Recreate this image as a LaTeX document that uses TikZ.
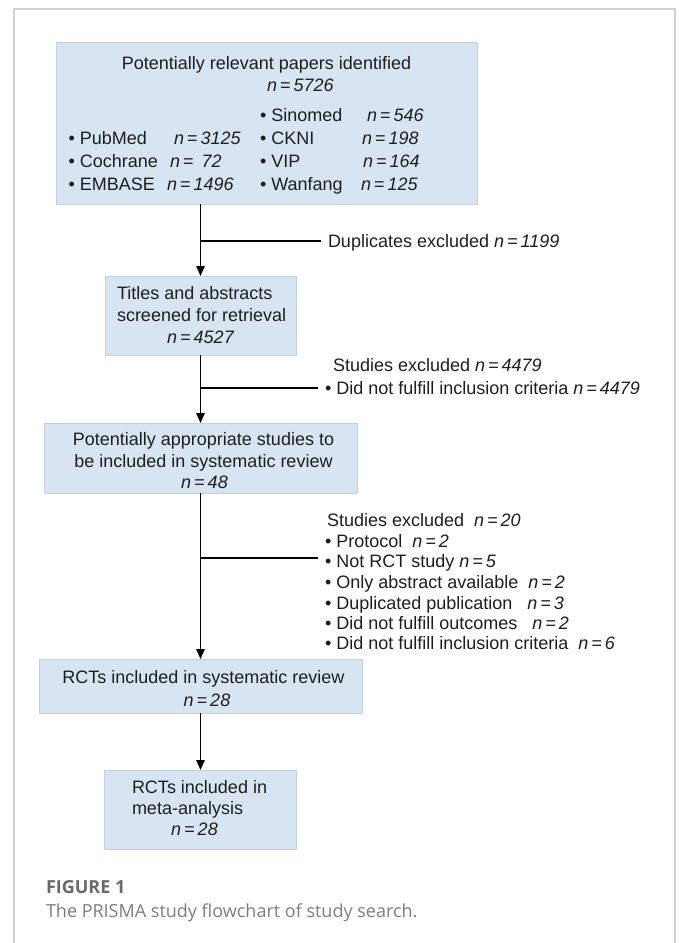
\documentclass[tikz,border=0pt]{standalone}
\usepackage{fontspec}
\setmainfont{Liberation Sans}
\newfontfamily\capfont{Open Sans}
\usetikzlibrary{arrows.meta,calc}
\definecolor{boxfill}{RGB}{215,229,243}
\definecolor{boxdraw}{RGB}{196,208,220}
\definecolor{framec}{RGB}{208,208,208}
\definecolor{txt}{RGB}{30,30,30}
\definecolor{capbold}{RGB}{105,105,105}
\definecolor{captext}{RGB}{125,125,125}
\newcommand\nval[1]{{\itshape n\,=\,#1}}
\begin{document}
\begin{tikzpicture}[x=1pt,y=-1pt,
  every node/.style={inner sep=0pt, outer sep=0pt, text=txt, font=\fontsize{18}{22}\selectfont},
  flowbox/.style={draw=boxdraw, fill=boxfill, line width=0.9pt, rectangle},
  tx/.style={anchor=base west},
  txc/.style={anchor=base},
  side/.style={anchor=base west, inner xsep=7pt},
  conn/.style={line width=1.4pt, draw=black},
  arr/.style={conn, -{Triangle[length=10pt,width=8.5pt]}},
]
\useasboundingbox (0,0) rectangle (678,943);
\clip (0,0) rectangle (678,943);
\draw[framec, line width=1.5pt] (14,960) -- (14,9) -- (675,9) -- (675,960);

% boxes
\node[flowbox, minimum width=421pt, minimum height=162pt] (b1) at (266.5,123) {};
\node[flowbox, minimum width=191pt, minimum height=79pt] (b2) at (200.5,315.5) {};
\node[flowbox, minimum width=313pt, minimum height=70pt] (b3) at (200.5,458) {};
\node[flowbox, minimum width=323pt, minimum height=54pt] (b4) at (200.5,686) {};
\node[flowbox, minimum width=192pt, minimum height=79pt] (b5) at (200.5,809.5) {};

% box 1 text
\node[txc] (h1) at (266.5,69) {Potentially relevant papers identified};
\node[tx] (h1n) at (267,91) {\nval{5726}};
\node[tx] (l1) at (68.5,144) {• PubMed};
\node[tx] (l1n) at (174,144) {\nval{3125}};
\node[tx] (l2) at (68.5,167) {• Cochrane};
\node[tx] (l2n) at (170,167) {{\itshape n\,=\ \,72}};
\node[tx] (l3) at (68.5,190) {• EMBASE};
\node[tx] (l3n) at (167,190) {\nval{1496}};
\node[tx] (r1) at (260,121) {• Sinomed};
\node[tx] (r1n) at (367,121) {\nval{546}};
\node[tx] (r2) at (260,144) {• CKNI};
\node[tx] (r2n) at (362,144) {\nval{198}};
\node[tx] (r3) at (260,167) {• VIP};
\node[tx] (r3n) at (363,167) {\nval{164}};
\node[tx] (r4) at (260,190) {• Wanfang};
\node[tx] (r4n) at (361,190) {\nval{125}};

% box 2 text
\node[tx] (t2a) at (117,299) {Titles and abstracts};
\node[tx] (t2b) at (117,321) {screened for retrieval};
\node[txc] (t2n) at (200.5,343) {\nval{4527}};

% box 3 text
\node[txc] (t3a) at (203.5,445) {Potentially appropriate studies to};
\node[txc] (t3b) at (203.5,467) {be included in systematic review};
\node[txc] (t3n) at (204.5,488) {\nval{48}};

% box 4 text
\node[txc] (t4a) at (203.5,683) {RCTs included in systematic review};
\node[txc] (t4n) at (207,706) {\nval{28}};

% box 5 text
\node[tx] (t5a) at (132,793) {RCTs included in};
\node[tx] (t5b) at (132,814) {meta-analysis};
\node[txc] (t5n) at (194.5,835) {\nval{28}};

% side texts
\node[side] (dup) at (321,247) {Duplicates excluded \nval{1199}};
\node[side] (s1a) at (326,371) {Studies excluded \nval{4479}};
\node[side] (s1b) at (318,394) {• Did not fulfill inclusion criteria \nval{4479}};
\node[side] (s2a) at (320,526) {Studies excluded\ \ \nval{20}};
\node[side] (s2b) at (318,547) {• Protocol\ \ \nval{2}};
\node[side] (s2c) at (318,567) {• Not RCT study \nval{5}};
\node[side] (s2d) at (318,588) {• Only abstract available\ \ \nval{2}};
\node[side] (s2e) at (318,609) {• Duplicated publication\ \ \ \nval{3}};
\node[side] (s2f) at (318,629) {• Did not fulfill outcomes\ \ \ \nval{2}};
\node[side] (s2g) at (318,649) {• Did not fulfill inclusion criteria\ \ \nval{6}};

% connectors
\coordinate (j1) at (200.5,241);
\coordinate (j2) at (200.5,388);
\coordinate (j3) at (200.5,558);
\draw[arr] (b1.south -| b2.north) -- (b2.north);
\draw[arr] (b2.south) -- (b3.north);
\draw[arr] (b3.south) -- (b4.north);
\draw[arr] (b4.south) -- (b5.north);
\draw[conn] (j1) -- (j1 -| dup.west);
\draw[conn] (j2) -- (j2 -| s1b.west);
\draw[conn] (j3) -- (j3 -| s2c.west);

% caption
\node[anchor=base west, font=\capfont\bfseries\fontsize{18}{22}\selectfont, text=capbold] (fig) at (46,893.5) {FIGURE 1};
\node[anchor=base west, font=\capfont\fontsize{18}{22}\selectfont, text=captext] (cap) at (46,917) {The PRISMA study flowchart of study search.};
\end{tikzpicture}
\end{document}
